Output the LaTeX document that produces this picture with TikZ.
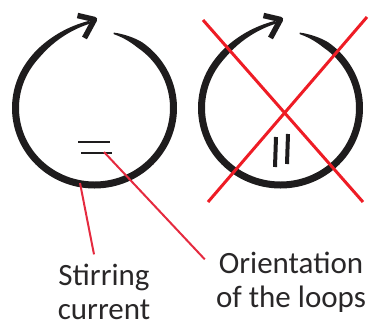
\documentclass[tikz,border=0pt]{standalone}
\usepackage{fontspec}
\setmainfont{Carlito}
\usepackage{tikz}
\definecolor{ink}{RGB}{30,28,29}
\definecolor{lead}{RGB}{229,42,63}
\definecolor{cross}{RGB}{238,28,37}
\tikzstyle{leader} = [lead,line width=2pt]
\tikzstyle{crossline} = [cross,line width=3pt]
\tikzstyle{tip} = [ink,line width=5.5pt,line join=round]
\tikzstyle{label} = [align=center,inner sep=0pt,font=\fontsize{31}{34}\selectfont,text=ink!95]
\tikzset{declare function={
  grow(\s)=ifthenelse(\s>0.85,9*((\s-0.85)/0.15)^2,0);
  brush(\s)=ifthenelse(\s<0.06,1.5+5.5*\s/0.06,ifthenelse(\s>0.88,7-4*(\s-0.88)/0.12,7));
}}
% hand-drawn loop with its arrow head, #1 = x of centre
\newcommand{\stirloop}[1]{
  \fill[ink] plot[domain=0:1,samples=160,variable=\t]
    ({#1+(\rx+grow(\t)+brush(\t)/2)*cos(76-343*\t)},{\cy-(\ry+grow(\t)+brush(\t)/2)*sin(76-343*\t)})
    -- plot[domain=1:0,samples=160,variable=\t]
    ({#1+(\rx+grow(\t)-brush(\t)/2)*cos(76-343*\t)},{\cy-(\ry+grow(\t)-brush(\t)/2)*sin(76-343*\t)})
    -- cycle;
  \draw[tip] (#1-17,15.5) -- (#1,19.5) -- (#1-10,38);
}
\begin{document}
\begin{tikzpicture}[x=1pt,y=-1pt]
    \useasboundingbox (0,0) rectangle (369,322);
    \def\rx{79}
    \def\ry{77}
    \def\cy{108}
    % left loop: stirring current
    \stirloop{94.5}
    \draw[ink,line width=2.8pt] (78,142) -- (110,142);
    \draw[ink,line width=2.8pt] (81,153) -- (112,153);
    % right loop, crossed out
    \stirloop{280.5}
    \draw[ink,line width=4pt] (276,137) -- (275,167);
    \draw[ink,line width=4pt] (288,134) -- (287,164);
    \draw[crossline] (203,20) -- (363,202);
    \draw[crossline] (367,17) -- (208,202);
    % labels
    \coordinate (stir) at (80,183);
    \coordinate (orient) at (104,152);
    \node[label,anchor=base] (stirtext) at (104,319) {Stirring\\current};
    \node[label,anchor=base] (orienttext) at (291,307) {Orientation\\of the loops};
    \draw[leader] (stir) -- ([xshift=-10pt,yshift=9pt]stirtext.north);
    \draw[leader] (orient) -- ([xshift=-11pt,yshift=-8pt]orienttext.north west);
\end{tikzpicture}
\end{document}
